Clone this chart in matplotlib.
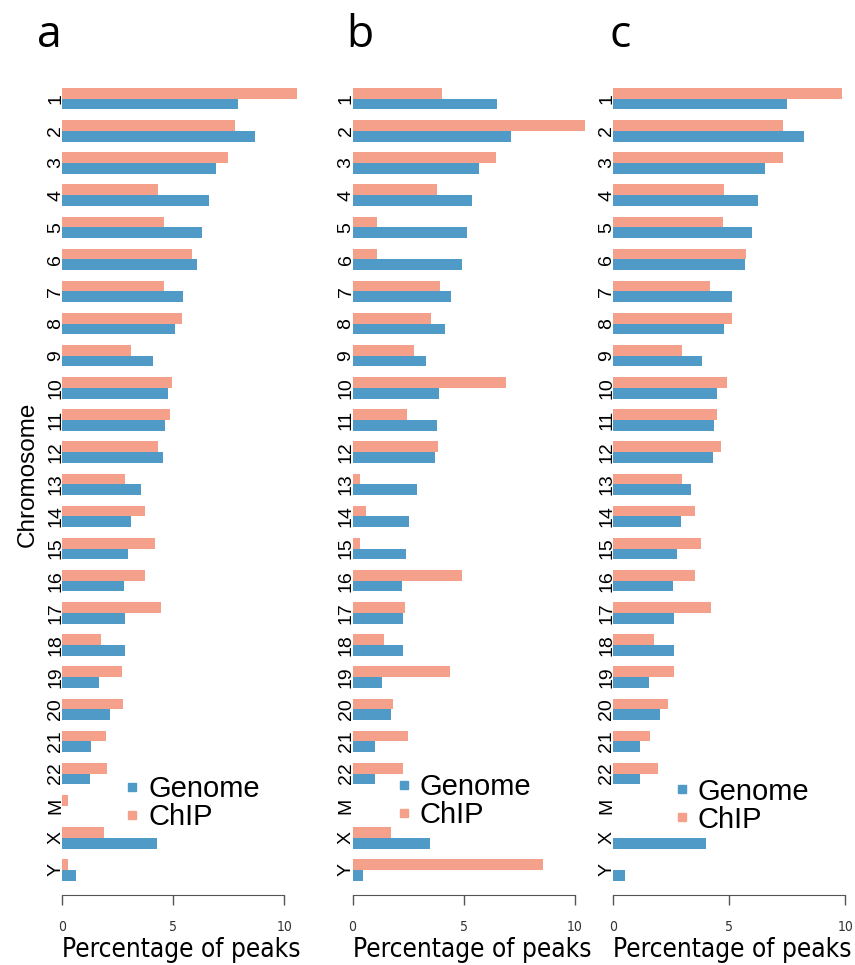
import numpy as np
import matplotlib
matplotlib.use('Agg')
import matplotlib.pyplot as plt
from matplotlib.lines import Line2D

chromosomes = ['1', '2', '3', '4', '5', '6', '7', '8', '9', '10', '11', '12', '13',
               '14', '15', '16', '17', '18', '19', '20', '21', '22', 'M', 'X', 'Y']

# percentage of peaks per chromosome, genome background vs ChIP peaks
genome_a = [7.91, 8.68, 6.92, 6.59, 6.31, 6.05, 5.45, 5.08, 4.07, 4.75, 4.63, 4.55, 3.55,
            3.11, 2.95, 2.78, 2.81, 2.81, 1.65, 2.15, 1.28, 1.25, 0.0, 4.27, 0.62]
chip_a = [10.59, 7.78, 7.45, 4.31, 4.60, 5.84, 4.60, 5.41, 3.11, 4.93, 4.84, 4.33, 2.81,
          3.74, 4.19, 3.74, 4.43, 1.73, 2.70, 2.73, 1.98, 2.03, 0.26, 1.86, 0.26]

genome_b = [6.52, 7.14, 5.70, 5.40, 5.17, 4.95, 4.45, 4.15, 3.31, 3.88, 3.79, 3.73, 2.89,
            2.53, 2.40, 2.24, 2.29, 2.29, 1.33, 1.75, 1.01, 1.01, 0.0, 3.50, 0.47]
chip_b = [4.04, 10.49, 6.46, 3.79, 1.12, 1.12, 3.93, 3.54, 2.76, 6.91, 2.47, 3.84, 0.35,
          0.62, 0.35, 4.92, 2.38, 1.43, 4.39, 1.84, 2.51, 2.26, 0.0, 1.72, 8.57]

genome_c = [7.50, 8.20, 6.55, 6.22, 5.96, 5.69, 5.13, 4.78, 3.84, 4.47, 4.35, 4.28, 3.33,
            2.92, 2.76, 2.59, 2.63, 2.63, 1.52, 2.00, 1.16, 1.15, 0.0, 3.99, 0.52]
chip_c = [9.84, 7.33, 7.33, 4.76, 4.73, 5.73, 4.17, 5.10, 2.95, 4.89, 4.47, 4.63, 2.97,
          3.53, 3.78, 3.53, 4.21, 1.75, 2.61, 2.36, 1.59, 1.94, 0.0, 0.0, 0.0]

x_ticks = [0, 5, 10]
series_names = ['Genome', 'ChIP']

BLUE = '#4f9ac6'
ORANGE = '#f4a08a'
AXIS_COL = '#555555'

W, H = 855, 965


def px_axes(fig, left, right, top, bottom):
    return fig.add_axes([left / W, 1 - bottom / H, (right - left) / W, (bottom - top) / H])


def draw_panel(ax, genome, chip, xmax, legend_anchor):
    y = np.arange(len(chromosomes))
    bh = 1.0 / 3
    ax.barh(y - bh / 2, chip, height=bh, color=ORANGE, linewidth=0)
    ax.barh(y + bh / 2, genome, height=bh, color=BLUE, linewidth=0)

    ax.set_xlim(0, xmax)
    ax.set_ylim(len(chromosomes) - 0.5, -0.5)

    for s in ['top', 'right', 'left']:
        ax.spines[s].set_visible(False)
    ax.spines['bottom'].set_bounds(0, 10)
    ax.spines['bottom'].set_position(('outward', 6.5))
    ax.spines['bottom'].set_color(AXIS_COL)

    ax.set_yticks(y)
    ax.set_yticklabels(chromosomes, rotation=90, fontsize=14, family='Liberation Sans',
                       va='center')
    ax.tick_params(axis='y', length=0, pad=-1.5)

    ax.set_xticks(x_ticks)
    ax.set_xticklabels([str(t) for t in x_ticks], fontsize=10, family='DejaVu Sans',
                       fontstretch='condensed', color='#333333')
    ax.tick_params(axis='x', length=7, width=1, color=AXIS_COL, pad=11)

    ax.set_xlabel('Percentage of peaks', fontsize=18.8, family='DejaVu Sans',
                  fontstretch='condensed', loc='left', labelpad=2)

    handles = [Line2D([], [], marker='s', ls='', color=BLUE, ms=6),
               Line2D([], [], marker='s', ls='', color=ORANGE, ms=6)]
    ax.legend(handles, series_names, loc='center left', bbox_to_anchor=legend_anchor,
              bbox_transform=ax.transData, frameon=False, handlelength=0.5,
              handletextpad=0.3, labelspacing=0.0, borderpad=0, borderaxespad=0,
              prop={'family': 'Liberation Sans', 'size': 21})


fig = plt.figure(figsize=(W / 100, H / 100), dpi=100)

top, bottom = 82.6, 886
ax_a = px_axes(fig, 62.3, 62.3 + 10.8 * 22.2, top, bottom)
ax_b = px_axes(fig, 352.5, 352.5 + 10.8 * 22.2, top, bottom)
ax_c = px_axes(fig, 613.3, 613.3 + 10.3 * 23.2, top, bottom)

draw_panel(ax_a, genome_a, chip_a, 10.8, (2.82, 21.91))
draw_panel(ax_b, genome_b, chip_b, 10.8, (1.98, 21.86))
draw_panel(ax_c, genome_c, chip_c, 10.3, (2.64, 22.0))

# panel letters
for x, letter in [(37, 'a'), (346, 'b'), (610, 'c')]:
    fig.text(x / W, 1 - 47 / H, letter, fontsize=32, family='Open Sans',
             ha='left', va='baseline')

fig.text(27.5 / W, 1 - 474 / H, 'Chromosome', rotation=90, ha='center', va='center',
         fontsize=17.5, family=['Liberation Sans Narrow', 'Liberation Sans'])

fig.savefig('out.png', dpi=100)
